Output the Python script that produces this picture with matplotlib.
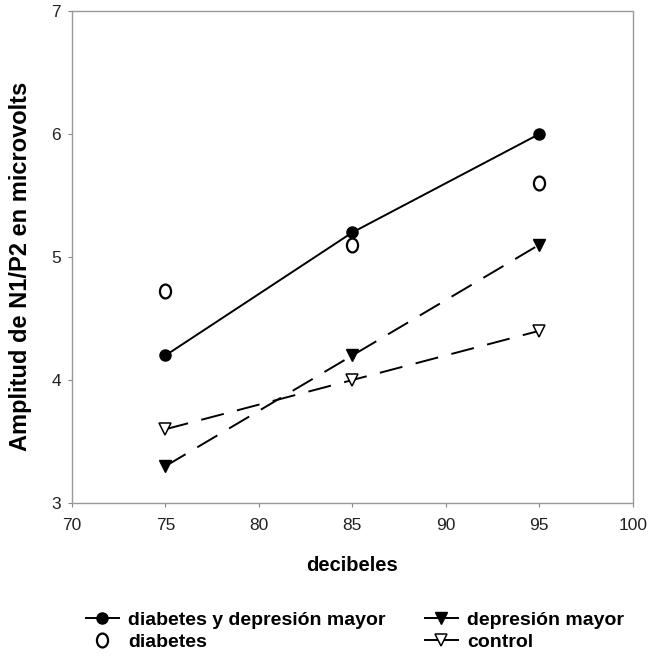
import matplotlib.pyplot as plt
from matplotlib.lines import Line2D
from matplotlib.path import Path
from matplotlib.transforms import Affine2D

plt.rcParams['font.family'] = ['Liberation Sans', 'DejaVu Sans']

decibeles = [75, 85, 95]
diab_dep = [4.2, 5.2, 6.0]
diabetes = [4.72, 5.1, 5.6]
dep_mayor = [3.3, 4.2, 5.1]
control = [3.6, 4.0, 4.4]

# letter-like oval for the "diabetes" points
oval = Path.unit_circle().transformed(Affine2D().scale(0.8, 1.0))

fig = plt.figure(figsize=(6.55, 6.56), dpi=100)
ax = fig.add_axes([0.110, 0.2332, 0.856, 0.750])

ax.plot(decibeles, diab_dep, color='black', lw=1.4, marker='o', ms=8,
        mfc='black', mec='black')
ax.plot(decibeles, diabetes, ls='none', marker=oval, ms=10, mfc='white',
        mec='black', mew=1.6)
ax.plot(decibeles, dep_mayor, color='black', lw=1.4, dashes=(12, 7),
        marker='v', ms=9, mfc='black', mec='black')
ax.plot(decibeles, control, color='black', lw=1.4, dashes=(12, 7),
        marker='v', ms=9, mfc='white', mec='black', mew=1.1)

ax.set_xlim(70, 100)
ax.set_ylim(3, 7)
ax.set_xticks([70, 75, 80, 85, 90, 95, 100])
ax.set_yticks([3, 4, 5, 6, 7])

for s in ax.spines.values():
    s.set_color('#999999')
    s.set_linestyle((0, (1, 1)))
    s.set_linewidth(1)
ax.tick_params(direction='out', length=3, color='#888888', labelsize=12.5,
               labelcolor='#222222')
ax.tick_params(axis='x', pad=8)
ax.tick_params(axis='y', pad=5)

ax.set_xlabel('decibeles', fontsize=14.5, fontweight='bold', labelpad=16)
ax.set_ylabel('Amplitud de N1/P2 en microvolts', fontsize=17,
              fontweight='bold')
ax.yaxis.set_label_coords(-0.072, 0.48)

# legend keys drawn with short solid lines, as in the original
handles = [
    Line2D([], [], color='black', lw=1.4, marker='o', ms=8, mfc='black'),
    Line2D([], [], ls='none', marker=oval, ms=10, mfc='white', mec='black',
           mew=1.6),
    Line2D([], [], color='black', lw=1.4, marker='v', ms=9, mfc='black'),
    Line2D([], [], color='black', lw=1.4, marker='v', ms=9, mfc='white',
           mec='black', mew=1.1),
]
labels = ['diabetes y depresión mayor', 'diabetes', 'depresión mayor',
          'control']
fig.legend(handles, labels, ncol=2, loc='center',
           bbox_to_anchor=(0.542, 0.038), frameon=False,
           prop={'weight': 'bold', 'size': 14}, handlelength=1.7,
           columnspacing=2.0, handletextpad=0.5, labelspacing=0.2)

fig.savefig('out.png', dpi=100)
